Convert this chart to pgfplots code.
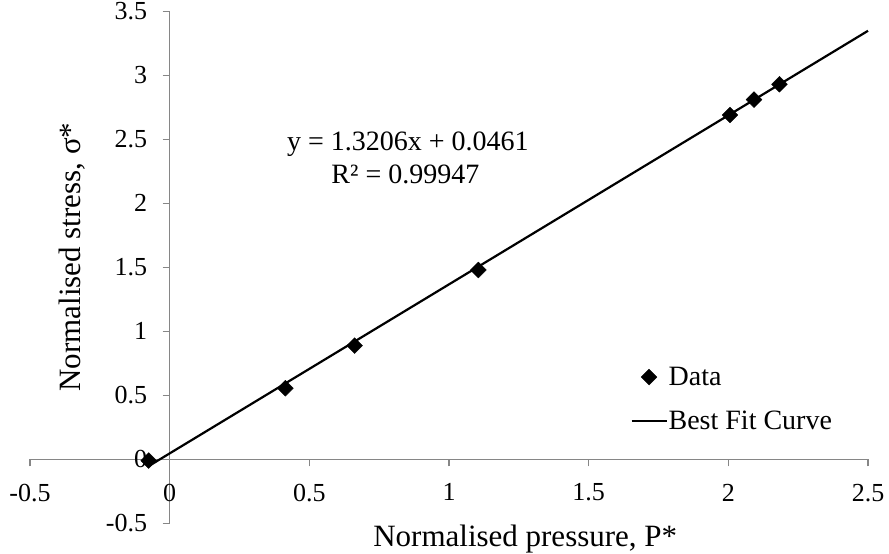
\documentclass[border=0pt]{standalone}
\usepackage{fontspec}
\setmainfont{Liberation Serif}
\usepackage{pgfplots}
\pgfplotsset{compat=1.18}
\definecolor{axgray}{RGB}{134,134,134}
\begin{document}
\begin{tikzpicture}
\begin{axis}[
  scale only axis,
  width=838pt, height=512pt,
  at={(0pt,0pt)}, anchor=south west,
  xmin=-0.5, xmax=2.5, ymin=-0.5, ymax=3.5,
  axis lines=middle,
  every inner x axis line/.append style={-},
  every inner y axis line/.append style={-},
  axis line style={draw=axgray, line width=1.3pt},
  hide obscured x ticks=false, hide obscured y ticks=false,
  xtick={-0.5,0,0.5,1,1.5,2,2.5},
  ytick={-0.5,0,0.5,1,1.5,2,2.5,3,3.5},
  tick align=outside,
  major tick length=7pt,
  tick style={draw=axgray, line width=1.3pt},
  /pgf/number format/assume math mode=true,
  ticklabel style={font=\fontsize{26}{30}\selectfont},
  xticklabel style={anchor=north, yshift=-14pt},
  yticklabel style={anchor=east, xshift=-12pt},
  xlabel={Normalised pressure, P*},
  ylabel={Normalised stress, σ*},
  every axis x label/.style={at={(axis description cs:0.591,-0.0457)}, anchor=base, font=\fontsize{31}{36}\selectfont},
  every axis y label/.style={at={(axis description cs:0.060,0.52)}, anchor=base, rotate=90, font=\fontsize{31}{36}\selectfont},
  clip=false,
  legend style={draw=none, fill=none, at={(axis cs:1.638,0.745)}, anchor=north west,
    font=\fontsize{28}{32}\selectfont, row sep=22pt,
    nodes={inner sep=1pt}},
  legend cell align=left,
  legend image code/.code={\draw[mark repeat=2,mark phase=2,#1] plot coordinates {(0pt,0pt) (17.5pt,0pt) (35pt,0pt)};},
]
\addplot[only marks, mark=square*, mark size=5.6pt, mark options={rotate=45, fill=black, draw=black}]
  coordinates {(-0.075,-0.01) (0.414,0.555) (0.662,0.888) (1.105,1.479) (2.006,2.69) (2.092,2.81) (2.183,2.93)};
\addlegendentry{Data}
\addplot[black, line width=2.2pt, mark=none] coordinates {(-0.077,-0.0556) (2.5,3.3476)};
\addlegendentry{Best Fit Curve}
\node[anchor=base, font=\fontsize{28}{32}\selectfont] at (axis cs:0.853,2.416) {y = 1.3206x + 0.0461};
\node[anchor=base, font=\fontsize{28}{32}\selectfont] at (axis cs:0.844,2.156) {R² = 0.99947};
\end{axis}
\pgfresetboundingbox
\path (-30pt,-30.7pt) rectangle (859pt,523.3pt);
\end{tikzpicture}
\end{document}
